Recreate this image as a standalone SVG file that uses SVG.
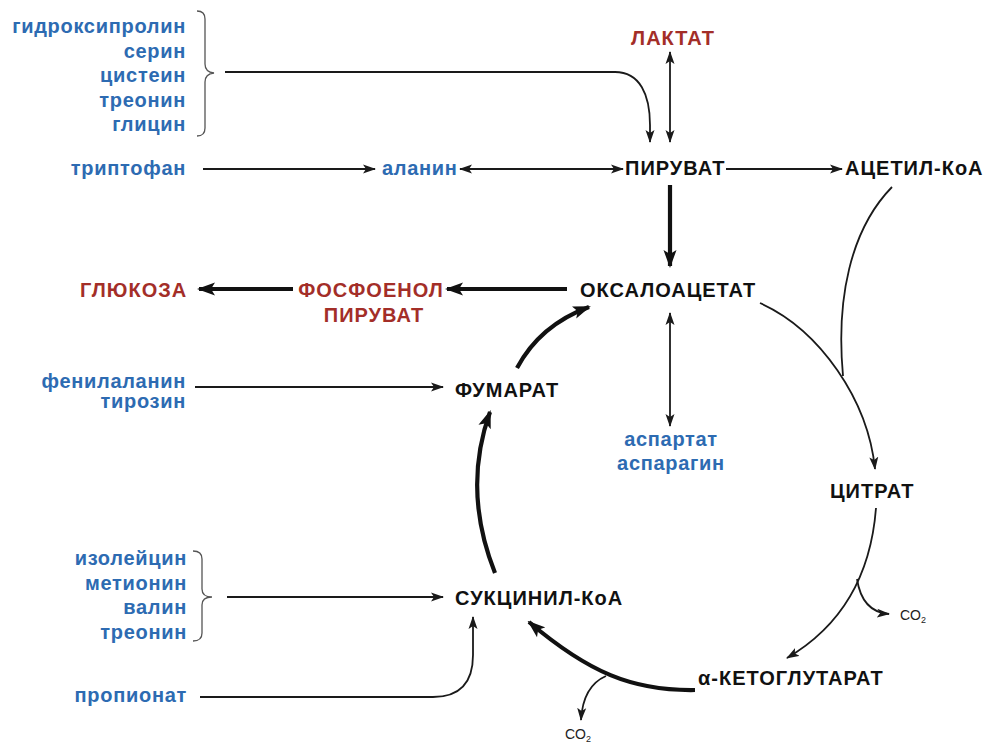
<svg xmlns="http://www.w3.org/2000/svg" width="984" height="744" viewBox="0 0 984 744">
  <defs>
    <style>
      text { font-family: "Liberation Sans", Arial, sans-serif; font-weight: bold; font-size: 20px; }
      .blk { fill: #111111; letter-spacing: 1px; }
      .red { fill: #a32e28; letter-spacing: 1px; }
      .blu { fill: #2d6bb2; letter-spacing: 0.7px; }
      .end { text-anchor: end; }
      .mid { text-anchor: middle; }
      .co2 { font-weight: normal; font-size: 14px; fill: #222222; }
      .thin { fill: none; stroke: #1a1a1a; stroke-width: 1.8; }
      .thick { fill: none; stroke: #111111; stroke-width: 4.2; }
      .brace { fill: none; stroke: #555555; stroke-width: 1.3; }
    </style>
    <marker id="ah" viewBox="0 0 13 10" refX="12" refY="5" markerWidth="13" markerHeight="10" markerUnits="userSpaceOnUse" orient="auto-start-reverse">
      <path d="M0,0.5 L13,5 L0,9.5 L3,5 z" fill="#1a1a1a"/>
    </marker>
    <marker id="ahb" viewBox="0 0 18 14" refX="16" refY="7" markerWidth="18" markerHeight="14" markerUnits="userSpaceOnUse" orient="auto-start-reverse">
      <path d="M0,0.5 L18,7 L0,13.5 L4,7 z" fill="#111111"/>
    </marker>
  </defs>
  <rect width="984" height="744" fill="#ffffff"/>

  <!-- source amino acids and metabolites -->
  <g id="group-pyruvate-aa">
    <text class="blu end" x="186" y="33">гидроксипролин</text>
    <text class="blu end" x="186" y="57.5">серин</text>
    <text class="blu end" x="186" y="82">цистеин</text>
    <text class="blu end" x="186" y="106.5">треонин</text>
    <text class="blu end" x="186" y="131">глицин</text>
    <path class="brace" d="M197,11 Q205,11 205,19 L205,64 Q205,72 214,73 Q205,74 205,82 L205,128 Q205,136 197,136"/>
  </g>
  <g id="tryptophan"><text class="blu end" x="186" y="175">триптофан</text></g>
  <g id="alanine"><text class="blu" x="382" y="175">аланин</text></g>
  <g id="lactate"><text class="red mid" x="673" y="45">ЛАКТАТ</text></g>
  <g id="pyruvate"><text class="blk" x="625" y="175">ПИРУВАТ</text></g>
  <g id="acetyl-coa"><text class="blk" x="845" y="175">АЦЕТИЛ-КоА</text></g>
  <g id="oxaloacetate"><text class="blk" x="580" y="297">ОКСАЛОАЦЕТАТ</text></g>
  <g id="glucose"><text class="red" x="80" y="297">ГЛЮКОЗА</text></g>
  <g id="pep">
    <text class="red mid" x="371" y="297">ФОСФОЕНОЛ</text>
    <text class="red mid" x="374" y="322">ПИРУВАТ</text>
  </g>
  <g id="group-fumarate-aa">
    <text class="blu end" x="186" y="388">фенилаланин</text>
    <text class="blu end" x="186" y="408">тирозин</text>
  </g>
  <g id="fumarate"><text class="blk" x="455" y="397">ФУМАРАТ</text></g>
  <g id="aspartate">
    <text class="blu mid" x="671" y="446">аспартат</text>
    <text class="blu mid" x="671" y="470">аспарагин</text>
  </g>
  <g id="citrate"><text class="blk" x="830" y="498">ЦИТРАТ</text></g>
  <g id="group-succinyl-aa">
    <text class="blu end" x="187" y="565">изолейцин</text>
    <text class="blu end" x="187" y="589.5">метионин</text>
    <text class="blu end" x="187" y="614">валин</text>
    <text class="blu end" x="187" y="638.5">треонин</text>
    <path class="brace" d="M193,551 Q202,551 202,559 L202,589 Q202,597 212,597 Q202,597 202,605 L202,633 Q202,641 193,641"/>
  </g>
  <g id="propionate"><text class="blu end" x="187" y="702">пропионат</text></g>
  <g id="succinyl-coa"><text class="blk" x="455" y="605">СУКЦИНИЛ-КоА</text></g>
  <g id="alpha-ketoglutarate"><text class="blk" x="698" y="685">α-КЕТОГЛУТАРАТ</text></g>
  <g id="co2-a"><text class="co2" x="900" y="620">CO<tspan font-size="9" dy="3">2</tspan></text></g>
  <g id="co2-b"><text class="co2" x="565" y="739">CO<tspan font-size="9" dy="3">2</tspan></text></g>

  <!-- reactions -->
  <g id="connectors">
    <path class="thin" d="M225,72 H615 C640,72 650,95 650,125 L650,142" marker-end="url(#ah)"/>
    <path class="thin" d="M670,52 V142" marker-start="url(#ah)" marker-end="url(#ah)"/>
    <path class="thin" d="M203,169 H375" marker-end="url(#ah)"/>
    <path class="thin" d="M460,169 H623" marker-start="url(#ah)" marker-end="url(#ah)"/>
    <path class="thin" d="M726,169 H842" marker-end="url(#ah)"/>
    <path class="thick" d="M670,185 V266" marker-end="url(#ahb)"/>
    <path class="thick" d="M567,289 H447" marker-end="url(#ahb)"/>
    <path class="thick" d="M293,289 H199" marker-end="url(#ahb)"/>
    <path class="thin" d="M195,387 H443" marker-end="url(#ah)"/>
    <path class="thick" d="M517,368 Q540,325 589,307" marker-end="url(#ahb)"/>
    <path class="thick" d="M495,573 Q462,490 490,412" marker-end="url(#ahb)"/>
    <path class="thin" d="M227,597 H443" marker-end="url(#ah)"/>
    <path class="thin" d="M200,697 H433 Q473,697 473,655 L473,617" marker-end="url(#ah)"/>
    <path class="thick" d="M695,690 C632,691 588,672 529,622" marker-end="url(#ahb)"/>
    <path class="thin" d="M606,676 Q583,686 581,720" marker-end="url(#ah)"/>
    <path class="thin" d="M876,508 C872,560 852,620 787,658" marker-end="url(#ah)"/>
    <path class="thin" d="M857,579 Q862,612 889,614" marker-end="url(#ah)"/>
    <path class="thin" d="M892,187 C850,230 836,300 843,376"/>
    <path class="thin" d="M760,303 C820,330 868,400 875,469" marker-end="url(#ah)"/>
    <path class="thin" d="M670,313 V426" marker-start="url(#ah)" marker-end="url(#ah)"/>
  </g>
</svg>
